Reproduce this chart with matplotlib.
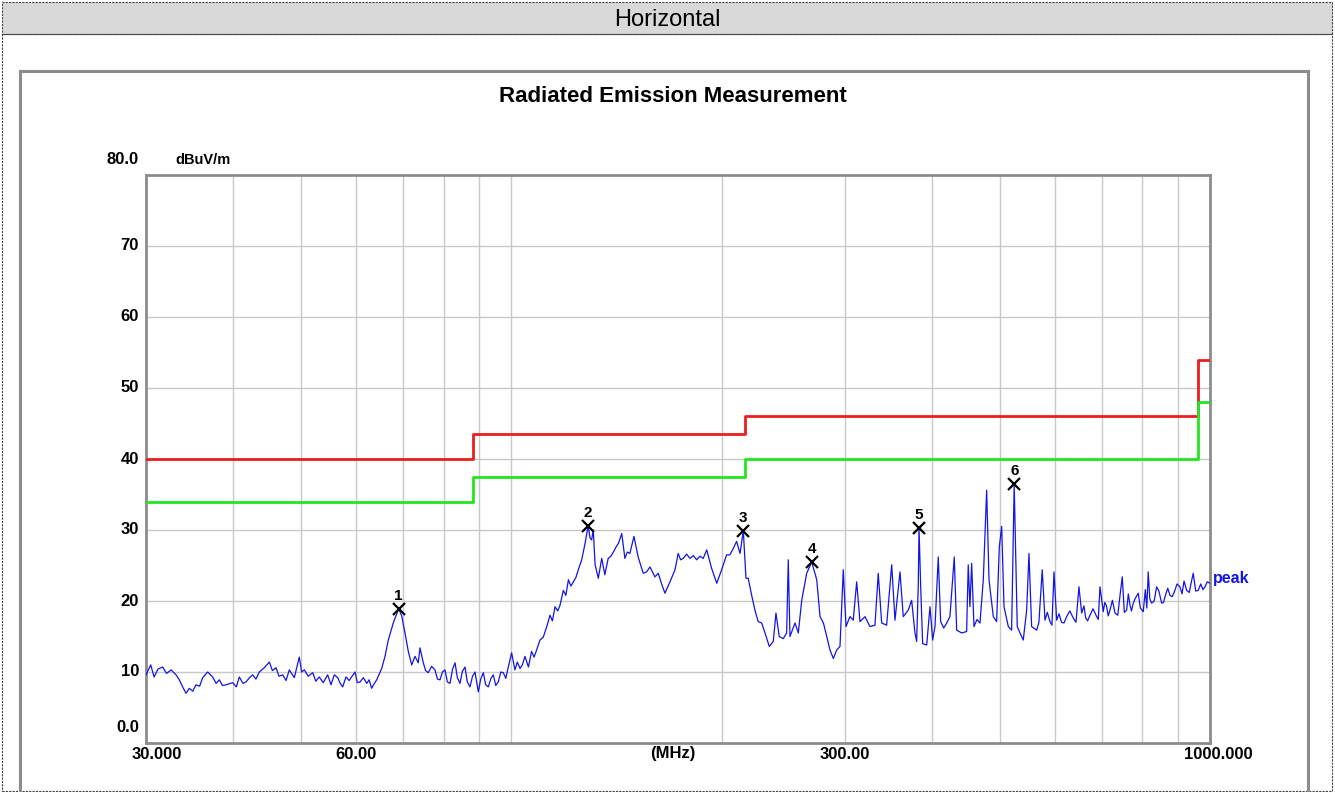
#!/usr/bin/env python3
"""Radiated emission plot (horizontal polarisation), log frequency axis."""
import matplotlib
matplotlib.use("Agg")
import matplotlib.pyplot as plt
from matplotlib.patches import Rectangle
from matplotlib.lines import Line2D

plt.rcParams["font.family"] = ["Liberation Sans", "DejaVu Sans"]

W, H = 1335, 792

trace_30_58 = [(30.0, 9.6), (30.47, 11.0), (30.81, 9.3), (31.2, 10.4), (31.70, 10.7), (32.1, 9.8),
               (32.58, 10.3), (33.12, 9.6), (33.48, 8.9), (33.85, 7.9), (34.23, 7.0), (34.60, 7.7),
               (35.0, 7.3), (35.38, 8.2), (35.8, 8.0), (36.16, 9.2), (36.76, 10.0), (37.37, 9.3),
               (37.8, 8.4), (38.20, 8.9), (38.6, 8.1), (39.05, 8.2), (39.93, 8.5), (40.4, 7.9),
               (40.80, 9.3), (41.3, 8.4), (41.71, 8.6), (42.2, 9.2), (42.64, 9.6), (43.1, 9.0),
               (43.58, 10.0), (44.3, 10.6), (45.05, 11.4), (45.5, 10.2), (46.05, 10.6), (46.5, 9.4),
               (47.07, 9.6), (47.6, 8.8), (48.11, 10.3), (48.91, 9.2), (49.72, 12.1), (50.1, 10.0),
               (50.55, 10.3), (51.2, 9.4), (51.97, 9.9), (52.5, 8.7), (53.10, 9.3), (53.8, 8.5),
               (54.60, 9.6), (55.19, 8.2), (55.8, 9.6), (56.43, 9.2), (56.9, 8.4), (57.36, 7.9),
               (57.99, 9.3)]
trace_58_110 = [(58.6, 8.8), (59.74, 10.0), (60.2, 8.5), (60.74, 8.6), (61.4, 9.2), (62.10, 8.4),
                (62.6, 8.9), (63.11, 7.7), (63.6, 8.3), (64.17, 8.9), (65.23, 10.5), (65.95, 12.2),
                (66.67, 14.5), (67.77, 16.9), (68.3, 17.8), (69.0, 18.9), (69.68, 17.9), (70.44, 15.5),
                (71.21, 12.9), (72.01, 11.0), (72.80, 12.2), (73.59, 11.3), (74.01, 13.4), (74.82, 11.3),
                (75.4, 10.2), (76.05, 9.9), (76.9, 10.8), (77.75, 10.3), (78.4, 9.0), (79.05, 8.9),
                (79.7, 10.0), (80.36, 10.3), (81.0, 8.6), (81.70, 8.4), (82.4, 10.4), (83.07, 11.3),
                (83.7, 9.2), (84.44, 8.4), (85.1, 10.1), (85.85, 10.7), (86.5, 8.6), (87.26, 7.9),
                (88.0, 9.4), (88.72, 10.0), (89.69, 7.2), (90.4, 9.0), (91.19, 9.9), (91.9, 8.2),
                (92.70, 7.9), (93.5, 9.1), (94.24, 9.6), (95.0, 8.1), (95.79, 8.6), (96.6, 10.0),
                (97.40, 9.9), (98.2, 9.1), (99.00, 10.7), (100.1, 12.7), (101.2, 10.3), (102.0, 11.4),
                (102.9, 10.5), (103.7, 11.0), (104.6, 12.2), (105.8, 10.7), (106.9, 12.9), (107.8, 12.1),
                (108.7, 13.1), (109.9, 14.5), (111.1, 14.9)]
trace_110_205 = [(112.4, 16.4), (113.6, 18.0), (114.5, 17.2), (115.5, 19.2), (116.5, 18.6), (117.4, 19.4),
                 (118.7, 21.5), (119.7, 20.8), (120.7, 23.0), (121.7, 22.1), (122.7, 22.7), (123.7, 23.3),
                 (124.7, 24.4), (126.1, 25.8), (127.5, 28.1), (128.8, 30.6), (129.6, 28.9), (130.3, 28.6),
                 (131.0, 30.0), (131.8, 25.1), (133.2, 23.2), (134.7, 26.0), (136.1, 23.7), (137.6, 26.0),
                 (138.8, 26.3), (140.0, 26.9), (141.2, 27.6), (142.3, 28.1), (143.9, 29.5), (145.4, 26.0),
                 (146.6, 26.9), (147.8, 26.7), (149.8, 29.1), (151.9, 26.2), (153.2, 25.0), (154.5, 23.9),
                 (156.2, 24.1), (157.9, 24.8), (160.5, 23.4), (162.3, 23.9), (164.1, 22.4), (165.9, 21.1),
                 (168.7, 22.7), (171.5, 24.4), (173.3, 26.7), (174.7, 25.8), (176.2, 26.0), (178.2, 26.6),
                 (180.2, 26.0), (182.2, 26.4), (184.2, 25.8), (186.2, 26.3), (188.2, 26.0), (190.4, 27.2),
                 (193.5, 24.6), (196.8, 22.5), (200.0, 24.4), (203.3, 26.5)]
trace_205_345 = [(205.5, 26.5), (207.8, 27.4), (210.1, 28.4), (212.5, 26.7), (214.8, 29.9), (216.7, 23.2),
                 (218.3, 23.2), (220.8, 20.8), (223.2, 18.7), (225.6, 17.1), (228.2, 16.9), (230.7, 15.5),
                 (234.0, 13.6), (237.1, 14.3), (239.2, 18.3), (241.8, 15.0), (245.0, 14.7), (247.8, 15.5),
                 (249.1, 25.8), (250.5, 15.0), (254.7, 16.9), (257.5, 15.5), (260.4, 20.1), (264.7, 23.9),
                 (269.1, 25.5), (273.6, 23.0), (276.6, 17.8), (279.7, 16.9), (282.8, 15.0), (285.8, 13.1),
                 (289.0, 11.9), (292.2, 13.1), (295.4, 13.6), (298.6, 24.4), (301.3, 16.4), (305.3, 17.8),
                 (308.6, 17.3), (312.1, 22.7), (315.5, 17.1), (320.8, 17.8), (326.1, 16.4), (331.5, 16.6),
                 (335.1, 23.9), (338.9, 16.9), (344.5, 16.6)]
trace_345_1000 = [(350.3, 25.1), (354.1, 17.3), (360.0, 24.1), (363.9, 17.8), (369.9, 18.7), (374.1, 20.1),
                  (378.2, 15.5), (380.3, 14.3), (382.3, 22.0), (383.3, 30.3), (385.4, 22.0), (387.9, 14.0),
                  (393.1, 13.8), (397.4, 19.2), (400.9, 14.5), (404.0, 16.4), (408.4, 26.2), (411.6, 17.1),
                  (415.8, 16.2), (419.9, 16.9), (424.4, 17.8), (430.5, 26.2), (433.9, 15.9), (441.2, 15.5),
                  (448.4, 15.7), (450.8, 25.1), (453.3, 19.2), (455.9, 25.3), (459.4, 16.4), (464.0, 17.4),
                  (468.6, 16.9), (473.7, 23.0), (479.0, 35.6), (482.7, 23.0), (489.6, 17.8), (495.0, 17.1),
                  (499.4, 27.6), (503.3, 30.5), (507.2, 19.2), (514.4, 16.4), (520.1, 15.9), (524.5, 36.5),
                  (529.8, 16.4), (534.6, 15.5), (540.4, 14.5), (546.5, 18.7), (550.7, 26.7), (555.5, 16.4),
                  (564.8, 15.9), (569.0, 17.0), (575.3, 24.4), (580.5, 17.3), (585.0, 18.4), (590.1, 17.1),
                  (594.0, 16.6), (598.0, 24.1), (603.3, 17.3), (608.0, 18.2), (613.0, 17.0), (618.0, 16.9),
                  (623.5, 17.8), (630.0, 18.6), (637.2, 17.6), (643.0, 17.0), (649.3, 22.0), (655.1, 18.3),
                  (660.0, 19.3), (664.0, 17.6), (668.0, 17.2), (673.3, 18.0), (680.0, 18.9), (688.4, 17.8),
                  (692.0, 17.4), (695.9, 22.0), (703.4, 18.5), (707.0, 19.8), (711.0, 19.3), (715.0, 17.9),
                  (719.1, 18.7), (725.0, 20.1), (731.2, 18.3), (738.0, 18.0), (743.0, 20.6), (748.9, 23.4),
                  (754.0, 18.4), (759.8, 18.7), (764.0, 21.0), (768.0, 19.5), (772.0, 18.6), (776.6, 19.7),
                  (782.0, 20.4), (789.4, 21.1), (795.0, 19.0), (802.6, 18.5), (808.0, 21.6), (812.0, 19.0),
                  (815.8, 24.1), (820.0, 20.3), (825.1, 19.7), (832.0, 20.0), (838.7, 22.0), (845.0, 21.4),
                  (852.7, 19.7), (858.0, 19.8), (864.0, 20.9), (870.0, 21.8), (876.4, 20.8), (883.0, 20.6),
                  (890.0, 21.4), (897.0, 22.4), (905.7, 22.0), (912.0, 21.0), (918.0, 22.8), (925.9, 21.5),
                  (934.0, 21.2), (940.0, 22.6), (946.2, 23.9), (954.0, 21.4), (962.0, 21.5), (970.0, 22.4),
                  (977.0, 21.6), (983.6, 22.0), (991.0, 22.7), (1000.0, 22.5)]

# limit lines (FCC class B style steps)
limit_edges = [30, 88, 216, 960, 1000]
limit_qp = [40.0, 43.5, 46.0, 54.0]
limit_margin = [34.0, 37.5, 40.0, 48.0]

# marked peaks
marker_freq = [69.0, 128.8, 214.8, 269.1, 383.3, 524.5]
marker_level = [18.9, 30.6, 29.9, 25.5, 30.3, 36.5]

grid_freq = [40, 50, 60, 70, 80, 90, 100, 200, 300, 400, 500, 600, 700, 800, 900]
grid_level = [10, 20, 30, 40, 50, 60, 70]
xtick_freq = [30, 60, 300, 1000]
xtick_text = ["30.000", "60.00", "300.00", "1000.000"]
ytick_level = [80, 70, 60, 50, 40, 30, 20, 10, 0]
ytick_text = ["80.0", "70", "60", "50", "40", "30", "20", "10", "0.0"]


def fx(x):
    return x / W


def fy(y):
    return 1 - y / H


def steps(edges, levels):
    xs, ys = [], []
    for i, lv in enumerate(levels):
        xs += [edges[i], edges[i + 1]]
        ys += [lv, lv]
    return xs, ys


def main():
    fig = plt.figure(figsize=(W / 100, H / 100), dpi=100)

    # page frame: grey header band + dashed borders
    fig.add_artist(Rectangle((fx(2), fy(34)), fx(1330), fy(2) - fy(34), transform=fig.transFigure,
                             facecolor="#d9d9d9", edgecolor="#444444", lw=0.8, ls=(0, (2, 1))))
    fig.add_artist(Rectangle((fx(2), fy(791)), fx(1330), fy(34) - fy(791), transform=fig.transFigure,
                             facecolor="none", edgecolor="#444444", lw=0.8, ls=(0, (2, 1))))
    fig.text(fx(667), fy(20), "Horizontal", ha="center", va="center", fontsize=17)

    # inner panel border
    for xs, ys in [((20, 1308), (71, 71)), ((20, 20), (71, 792)), ((1308, 1308), (71, 792))]:
        fig.add_artist(Line2D([fx(v) for v in xs], [fy(v) for v in ys], transform=fig.transFigure,
                              color="#8c8c8c", lw=2.2))
    fig.text(fx(673), fy(96), "Radiated Emission Measurement", ha="center", va="center",
             fontsize=16, fontweight="bold")

    ax = fig.add_axes([fx(146), fy(743), fx(1064), fy(175) - fy(743)])
    ax.set_xscale("log")
    ax.set_xlim(30, 1000)
    ax.set_ylim(0, 80)
    ax.set_xticks([]); ax.set_xticks([], minor=True); ax.set_yticks([])
    for f in grid_freq:
        ax.axvline(f, color="#c8c8c8", lw=1.0, zorder=0)
    for lv in grid_level:
        ax.axhline(lv, color="#c8c8c8", lw=1.0, zorder=0)
    for s in ax.spines.values():
        s.set_color("#8c8c8c"); s.set_linewidth(2.0)

    xs, ys = steps(limit_edges, limit_qp)
    ax.plot(xs, ys, color="#ee1c1c", lw=2.0, zorder=3)
    xs, ys = steps(limit_edges, limit_margin)
    ax.plot(xs, ys, color="#22e622", lw=2.0, zorder=3)

    pts = trace_30_58 + trace_58_110 + trace_110_205 + trace_205_345 + trace_345_1000
    ax.plot([p[0] for p in pts], [p[1] for p in pts], color="#1414e6", lw=0.9, zorder=4)
    ax.annotate("peak", (pts[-1][0], pts[-1][1]), xytext=(2, -2), textcoords="offset points",
                ha="left", va="bottom", color="#1414e6", fontsize=11.5, fontweight="bold",
                annotation_clip=False)

    ax.plot(marker_freq, marker_level, ls="none", marker="x", color="black", ms=8, mew=1.6, zorder=5)
    for i, (f, lv) in enumerate(zip(marker_freq, marker_level)):
        ax.annotate(str(i + 1), (f, lv), xytext=(0, 4), textcoords="offset points", ha="center",
                    va="bottom", fontsize=11, fontweight="bold")

    # axis labels drawn as text like the receiver software does
    for f, t in zip(xtick_freq, xtick_text):
        dx = {30: 8, 1000: 6}.get(f, 0)
        ax.annotate(t, (f, 0), xytext=(dx, -3), textcoords="offset points", ha="center", va="top",
                    fontsize=12, fontweight="bold", annotation_clip=False)
    ax.annotate("(MHz)", (0.5, 0), xycoords="axes fraction", xytext=(-4, -2), textcoords="offset points",
                ha="center", va="top", fontsize=12, fontweight="bold")
    for lv, t in zip(ytick_level, ytick_text):
        dy = 11 if lv in (0, 80) else 0
        ax.annotate(t, (30, lv), xytext=(-5, dy), textcoords="offset points", ha="right", va="center",
                    fontsize=12, fontweight="bold", annotation_clip=False)
    ax.annotate("dBuV/m", (30, 80), xytext=(21, 11), textcoords="offset points", ha="left", va="center",
                fontsize=10.5, fontweight="bold", annotation_clip=False)

    fig.savefig("out.png", dpi=100)


if __name__ == "__main__":
    main()
